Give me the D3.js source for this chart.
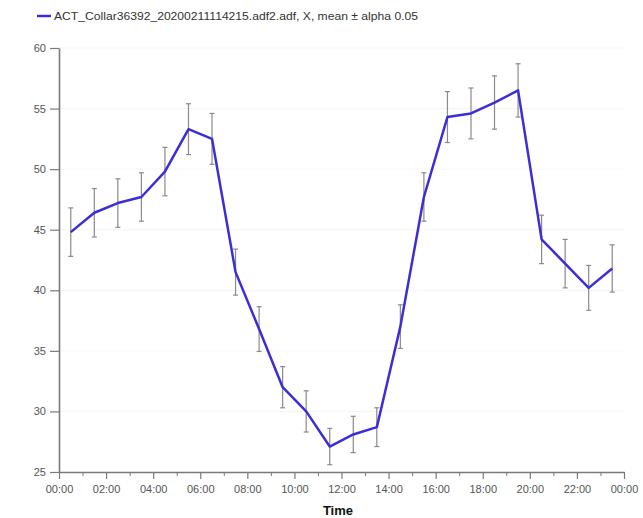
<!DOCTYPE html>
<html>
<head>
<meta charset="utf-8">
<script src="https://cdn.jsdelivr.net/npm/d3@7"></script>
<style>
  body { margin: 0; background: #fff; }
  svg { display: block; }
  text { font-family: "Liberation Sans", Arial, sans-serif; }
</style>
</head>
<body>
<svg id="chart" width="643" height="518"></svg>
<script>
// hour of each sample (half-hour bins)
var hours = [0.5, 1.5, 2.5, 3.5, 4.5, 5.5, 6.5, 7.5, 8.5, 9.5, 10.5, 11.5,
             12.5, 13.5, 14.5, 15.5, 16.5, 17.5, 18.5, 19.5, 20.5, 21.5, 22.5, 23.5]
var means = [44.8, 46.4, 47.2, 47.7, 49.8, 53.3, 52.5, 41.5, 36.8, 32.0, 30.0, 27.1,
             28.1, 28.7, 37.0, 47.7, 54.3, 54.6, 55.5, 56.5, 44.2, 42.2, 40.2, 41.8]
var errs = [2.0, 2.0, 2.0, 2.0, 2.0, 2.1, 2.1, 1.9, 1.85, 1.7, 1.7, 1.5,
            1.5, 1.6, 1.8, 2.0, 2.1, 2.1, 2.2, 2.2, 2.0, 2.0, 1.85, 1.95]
var yTicks = [25, 30, 35, 40, 45, 50, 55, 60]
var xMajor = [0, 2, 4, 6, 8, 10, 12, 14, 16, 18, 20, 22, 24]
var xMinor = [1, 3, 5, 7, 9, 11, 13, 15, 17, 19, 21, 23]
var legendLabel = "ACT_Collar36392_20200211114215.adf2.adf, X, mean \u00b1 alpha 0.05"

function draw() {
    var data = hours.map(function(h, i) { return { h: h, m: means[i], e: errs[i] } })

    var svg = d3.select("#chart")
    var mLeft = 59, mRight = 624, mTop = 48, mBottom = 472
    var lineColor = "#3b2ed6"
    var axisColor = "#7a7a7a"

    var x = d3.scaleLinear().domain([0, 24]).range([mLeft, mRight])
    var y = d3.scaleLinear().domain([25, 60]).range([mBottom, mTop])

    // faint grid
    svg.append("g")
        .selectAll("line")
        .data(yTicks.slice(1))
        .enter()
        .append("line")
        .attr("x1", mLeft).attr("x2", mRight)
        .attr("y1", function(d) { return y(d) }).attr("y2", function(d) { return y(d) })
        .attr("stroke", "#f4f4f4")
        .attr("stroke-width", 1)

    // y axis
    var yAxis = svg.append("g")
        .attr("transform", "translate(" + mLeft + ",0)")
        .call(d3.axisLeft(y).tickValues(yTicks).tickSize(9).tickSizeOuter(0).tickPadding(4))
    yAxis.select(".domain").attr("stroke", axisColor).attr("stroke-width", 1.6)
    yAxis.selectAll(".tick line").attr("stroke", axisColor).attr("stroke-width", 1.2)
    yAxis.selectAll("text").attr("fill", "#555").style("font-size", "11px")

    // x axis
    function fmt(h) {
        var hh = h % 24
        return (hh < 10 ? "0" : "") + hh + ":00"
    }
    var xAxis = svg.append("g")
        .attr("transform", "translate(0," + mBottom + ")")
        .call(d3.axisBottom(x).tickValues(xMajor).tickFormat(fmt).tickSize(7).tickSizeOuter(0).tickPadding(6))
    xAxis.select(".domain").attr("stroke", axisColor).attr("stroke-width", 1.6)
    xAxis.selectAll(".tick line").attr("stroke", axisColor).attr("stroke-width", 1.2)
    xAxis.selectAll("text").attr("fill", "#555").style("font-size", "11px")

    svg.append("g")
        .attr("transform", "translate(0," + mBottom + ")")
        .call(d3.axisBottom(x).tickValues(xMinor).tickFormat("").tickSize(4).tickSizeOuter(0))
        .call(function(g) {
            g.select(".domain").remove()
            g.selectAll(".tick line").attr("stroke", axisColor).attr("stroke-width", 1)
        })

    svg.append("text")
        .attr("x", x(11.85))
        .attr("y", 515)
        .attr("text-anchor", "middle")
        .style("font-size", "13px")
        .style("font-weight", "bold")
        .attr("fill", "#111")
        .text("Time")

    // error bars
    var eb = svg.append("g").attr("stroke", "#8a8a8a").attr("stroke-width", 1.2)
    eb.selectAll(".v")
        .data(data)
        .enter()
        .append("line")
        .attr("x1", function(d) { return x(d.h) }).attr("x2", function(d) { return x(d.h) })
        .attr("y1", function(d) { return y(d.m + d.e) }).attr("y2", function(d) { return y(d.m - d.e) })
    eb.selectAll(".capT")
        .data(data)
        .enter()
        .append("line")
        .attr("x1", function(d) { return x(d.h) - 2.5 }).attr("x2", function(d) { return x(d.h) + 2.5 })
        .attr("y1", function(d) { return y(d.m + d.e) }).attr("y2", function(d) { return y(d.m + d.e) })
    eb.selectAll(".capB")
        .data(data)
        .enter()
        .append("line")
        .attr("x1", function(d) { return x(d.h) - 2.5 }).attr("x2", function(d) { return x(d.h) + 2.5 })
        .attr("y1", function(d) { return y(d.m - d.e) }).attr("y2", function(d) { return y(d.m - d.e) })

    // mean line
    var line = d3.line()
        .x(function(d) { return x(d.h) })
        .y(function(d) { return y(d.m) })

    svg.append("path")
        .datum(data)
        .attr("d", line)
        .attr("fill", "none")
        .attr("stroke", lineColor)
        .attr("stroke-width", 2.5)
        .attr("stroke-linejoin", "round")

    // legend
    svg.append("line")
        .attr("x1", 37).attr("x2", 51)
        .attr("y1", 16).attr("y2", 16)
        .attr("stroke", lineColor)
        .attr("stroke-width", 2.5)
    svg.append("text")
        .attr("x", 54)
        .attr("y", 20)
        .attr("textLength", 364)
        .attr("lengthAdjust", "spacingAndGlyphs")
        .style("font-size", "10.5px")
        .attr("fill", "#333")
        .text(legendLabel)
}

draw()
</script>
</body>
</html>
